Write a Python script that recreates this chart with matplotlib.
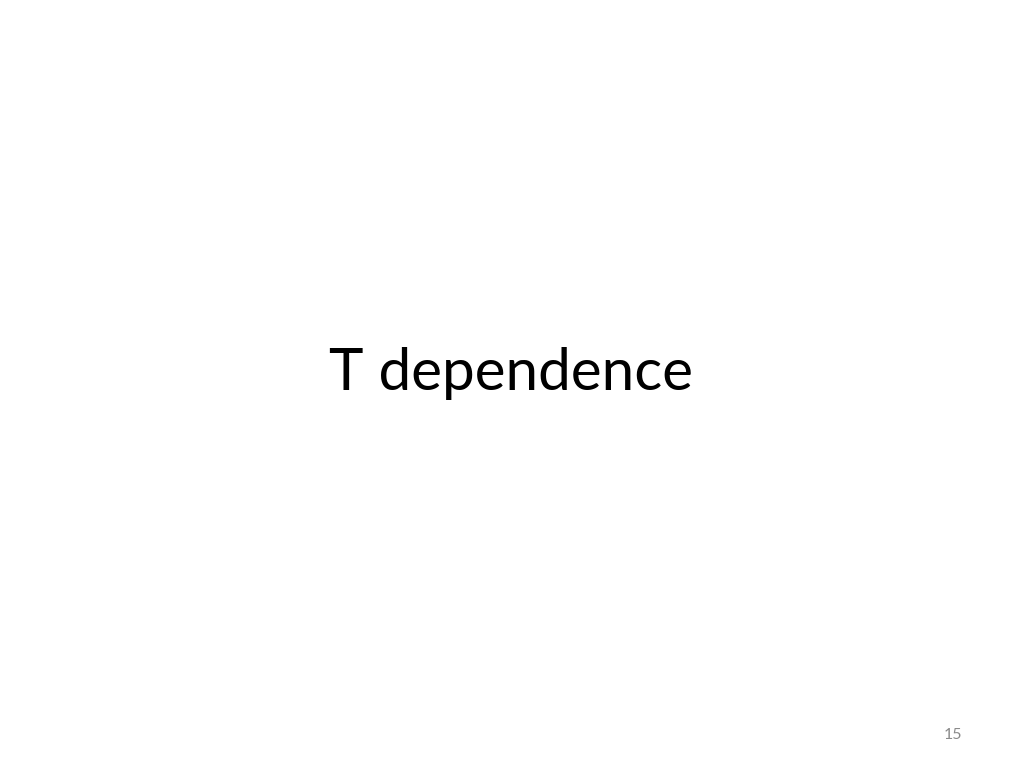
import matplotlib
matplotlib.use("Agg")
import matplotlib.pyplot as plt

title_text = "T dependence"
page_number = "15"

fig = plt.figure(figsize=(10.24, 7.68), dpi=100)
fig.patch.set_facecolor("white")

fig.text(511/1024, 1 - 390/768, title_text, ha="center", va="baseline",
         fontsize=42, family="Lato", color="black")
fig.text(953/1024, 1 - 739/768, page_number, ha="center", va="baseline",
         fontsize=11.5, family="Lato", color="#8a8a8a")

fig.savefig("out.png", dpi=100, facecolor="white")
